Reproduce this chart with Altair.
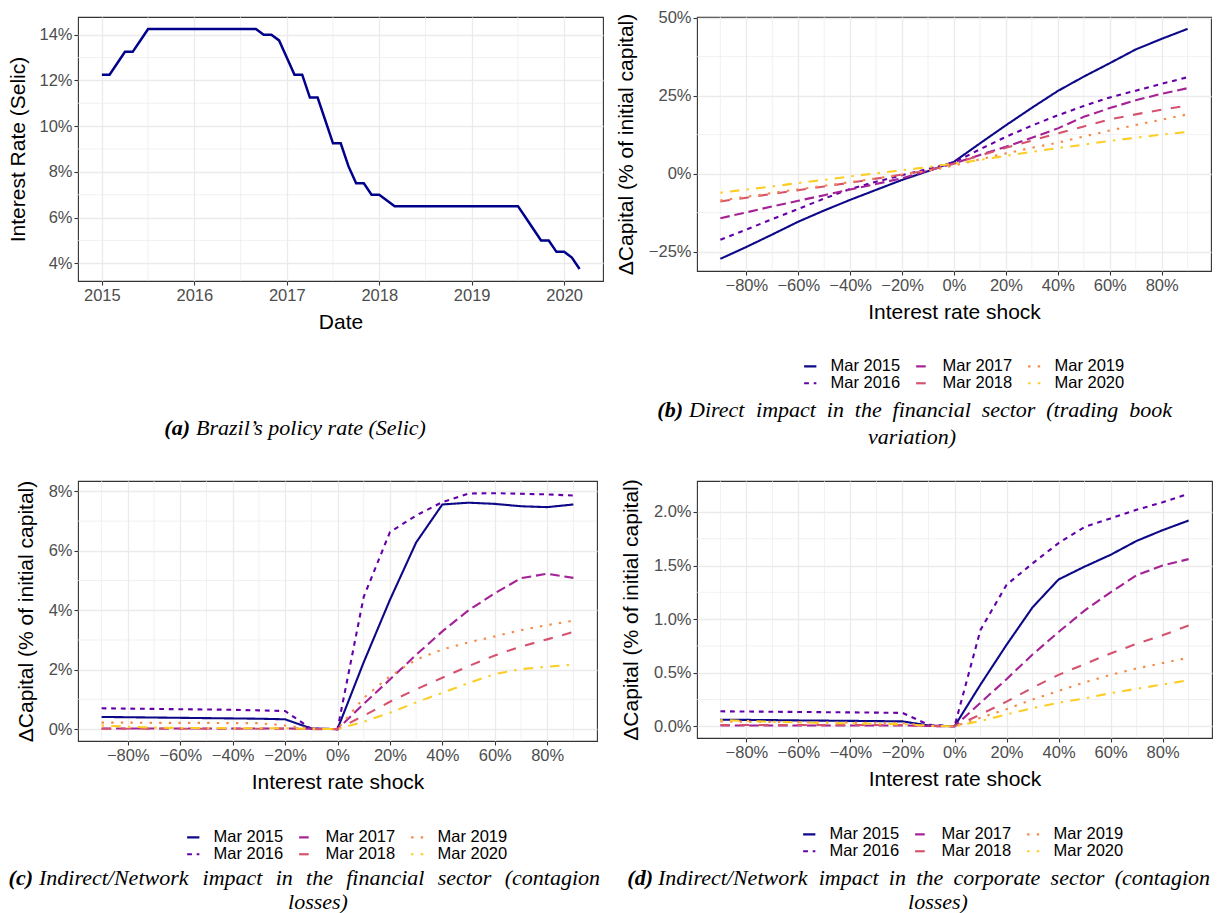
import altair as alt
import pandas as pd

# ---------------- data ----------------
SELIC_START = "2015-01-01"
SELIC_RATE = [12.25, 12.25, 12.75, 13.25, 13.25, 13.75, 14.25, 14.25, 14.25, 14.25, 14.25, 14.25,
              14.25, 14.25, 14.25, 14.25, 14.25, 14.25, 14.25, 14.25, 14.25, 14.00, 14.00, 13.75,
              13.00, 12.25, 12.25, 11.25, 11.25, 10.25, 9.25, 9.25, 8.25, 7.50, 7.50, 7.00,
              7.00, 6.75, 6.50, 6.50, 6.50, 6.50, 6.50, 6.50, 6.50, 6.50, 6.50, 6.50,
              6.50, 6.50, 6.50, 6.50, 6.50, 6.50, 6.50, 6.00, 5.50, 5.00, 5.00, 4.50,
              4.50, 4.25, 3.75]

SHOCKS = [-90, -80, -70, -60, -50, -40, -30, -20, -10, 0, 10, 20, 30, 40, 50, 60, 70, 80, 90]
SERIES = ["Mar 2015", "Mar 2016", "Mar 2017", "Mar 2018", "Mar 2019", "Mar 2020"]

DIRECT = {
    "Mar 2015": [-27.3, -23.5, -19.5, -15.4, -11.8, -8.4, -5.2, -2.0, 0.8, 3.8, 9.7, 15.5, 21.1, 26.5, 31.1, 35.4, 39.8, 43.2, 46.4],
    "Mar 2016": [-21.2, -17.9, -14.6, -11.3, -8.0, -4.9, -2.6, -0.5, 1.5, 3.6, 7.8, 11.8, 15.4, 18.7, 21.7, 24.4, 26.6, 28.8, 30.9],
    "Mar 2017": [-14.3, -12.4, -10.5, -8.7, -6.9, -5.1, -3.3, -1.5, 0.9, 3.3, 6.0, 8.6, 11.5, 14.5, 18.2, 21.0, 23.5, 25.6, 27.4],
    "Mar 2018": [-8.9, -7.7, -6.5, -5.3, -4.1, -2.9, -1.6, -0.3, 1.0, 3.2, 5.8, 8.3, 10.6, 12.9, 15.1, 17.4, 19.0, 20.5, 21.8],
    "Mar 2019": [-8.6, -7.4, -6.2, -5.0, -3.9, -2.7, -1.5, -0.3, 0.9, 2.6, 4.6, 6.5, 8.3, 9.9, 11.9, 13.8, 15.6, 17.3, 19.0],
    "Mar 2020": [-6.1, -5.1, -4.1, -3.0, -2.0, -0.9, 0.1, 1.1, 2.1, 3.2, 4.4, 5.7, 7.0, 8.2, 9.3, 10.5, 11.5, 12.5, 13.4],
}
FIN_NET = {
    "Mar 2015": [0.41, 0.40, 0.39, 0.38, 0.37, 0.36, 0.35, 0.33, 0.02, 0.0, 2.25, 4.35, 6.28, 7.56, 7.62, 7.58, 7.50, 7.47, 7.56],
    "Mar 2016": [0.70, 0.69, 0.68, 0.67, 0.66, 0.65, 0.63, 0.61, 0.01, 0.0, 4.45, 6.63, 7.19, 7.64, 7.93, 7.94, 7.92, 7.90, 7.86],
    "Mar 2017": [0.02, 0.02, 0.02, 0.02, 0.02, 0.02, 0.02, 0.02, 0.01, 0.0, 0.85, 1.67, 2.50, 3.29, 4.00, 4.57, 5.08, 5.23, 5.09],
    "Mar 2018": [0.01, 0.01, 0.01, 0.01, 0.01, 0.01, 0.01, 0.01, 0.0, 0.0, 0.45, 0.92, 1.34, 1.73, 2.12, 2.48, 2.78, 3.02, 3.27],
    "Mar 2019": [0.22, 0.22, 0.21, 0.21, 0.21, 0.20, 0.20, 0.12, 0.02, 0.0, 1.05, 1.78, 2.34, 2.68, 2.92, 3.12, 3.33, 3.50, 3.65],
    "Mar 2020": [0.12, 0.08, 0.05, 0.04, 0.04, 0.03, 0.03, 0.03, 0.01, 0.0, 0.25, 0.55, 0.90, 1.22, 1.55, 1.85, 2.02, 2.10, 2.17],
}
CORP_NET = {
    "Mar 2015": [0.062, 0.060, 0.058, 0.055, 0.053, 0.051, 0.049, 0.046, 0.008, 0.0, 0.39, 0.76, 1.11, 1.37, 1.49, 1.60, 1.73, 1.83, 1.92],
    "Mar 2016": [0.140, 0.138, 0.136, 0.134, 0.132, 0.130, 0.128, 0.125, 0.015, 0.0, 0.90, 1.32, 1.52, 1.71, 1.86, 1.94, 2.02, 2.09, 2.17],
    "Mar 2017": [0.008, 0.008, 0.008, 0.008, 0.008, 0.008, 0.008, 0.008, 0.003, 0.0, 0.22, 0.44, 0.67, 0.88, 1.08, 1.25, 1.41, 1.50, 1.56],
    "Mar 2018": [0.012, 0.012, 0.012, 0.012, 0.012, 0.012, 0.012, 0.012, 0.004, 0.0, 0.11, 0.23, 0.36, 0.48, 0.58, 0.68, 0.77, 0.85, 0.94],
    "Mar 2019": [0.045, 0.043, 0.041, 0.039, 0.037, 0.035, 0.033, 0.031, 0.006, 0.0, 0.08, 0.16, 0.25, 0.33, 0.41, 0.48, 0.54, 0.59, 0.64],
    "Mar 2020": [0.058, 0.050, 0.042, 0.036, 0.031, 0.028, 0.025, 0.020, 0.005, 0.0, 0.05, 0.11, 0.17, 0.22, 0.26, 0.31, 0.35, 0.39, 0.43],
}

SERIES_COLORS = {"Mar 2015": "#0D0887", "Mar 2016": "#6300A7", "Mar 2017": "#A52196",
                 "Mar 2018": "#D5536F", "Mar 2019": "#F48A47", "Mar 2020": "#FCCE25"}
SERIES_DASH = {"Mar 2015": [1, 0], "Mar 2016": [4.8, 4.8], "Mar 2017": [9.6, 4.8],
               "Mar 2018": [9.6, 9.6], "Mar 2019": [2.4, 7.2], "Mar 2020": [2.4, 7.2, 9.6, 7.2]}

X_MAJOR = [-80, -60, -40, -20, 0, 20, 40, 60, 80]
X_MINOR = [-90, -70, -50, -30, -10, 10, 30, 50, 70, 90]

# ---------------- style ----------------
FONT = "Liberation Sans"
SERIF = "Liberation Serif"
GRID = "#EBEBEB"
CAP_SIZE = 22

# approximate advance widths (1/1000 em) of a Times italic face, used to justify caption lines
TIMES_ITALIC_W = {" ": 250, "(": 333, ")": 333, "/": 278, "\u2019": 333,
                  "a": 500, "b": 500, "c": 444, "d": 500, "e": 444, "f": 278, "g": 500,
                  "h": 500, "i": 278, "j": 278, "k": 444, "l": 278, "m": 722, "n": 500,
                  "o": 500, "p": 500, "q": 500, "r": 389, "s": 389, "t": 278, "u": 500,
                  "v": 444, "w": 667, "x": 444, "y": 444, "z": 389,
                  "I": 333, "N": 667, "D": 722, "B": 611, "S": 500}


def word_width(word):
    return sum(TIMES_ITALIC_W.get(ch, 500) for ch in word) * CAP_SIZE / 1000.0


def justified(text, x0, x1, y):
    """Split a caption line into words spread from x0 to x1 (LaTeX-justified line)."""
    words = text.split(" ")
    widths = [word_width(w) for w in words]
    gap = (x1 - x0 - sum(widths)) / (len(words) - 1)
    pieces = []
    x = x0
    for i, (w, wd) in enumerate(zip(words, widths)):
        if i == len(words) - 1:
            pieces.append((w, x1, y, "right", False))
        else:
            pieces.append((w, x, y, "left", False))
        x += wd + gap
    return pieces


def pct_expr(dec):
    return ("(datum.value < 0 ? '\u2212' : '') + format(abs(datum.value), '.%df') + '%%'" % dec)


def caption_layers(pieces):
    layers = []
    for text, x, y, align, bold in pieces:
        layers.append(
            alt.Chart(pd.DataFrame({"label": [text]}))
            .mark_text(font=SERIF, fontSize=CAP_SIZE, fontStyle="italic",
                       fontWeight="bold" if bold else "normal", align=align,
                       baseline="middle", color="black")
            .encode(text="label:N", x=alt.value(x), y=alt.value(y))
        )
    return layers


def shock_panel(vals, ydom, ymajor, yminor, ydec, width, height, lx, ly, caption):
    rows = []
    for s in SERIES:
        for x, v in zip(SHOCKS, vals[s]):
            rows.append({"shock": x, "value": v, "series": s})
    df = pd.DataFrame(rows)
    xs = alt.Scale(domain=[-99, 99], nice=False, zero=False)
    ys = alt.Scale(domain=ydom, nice=False, zero=False)
    xaxis = alt.Axis(title="Interest rate shock", values=X_MAJOR, labelExpr=pct_expr(0),
                     labelOverlap=False, labelFlush=False, titlePadding=8)
    yaxis = alt.Axis(title="\u0394Capital (% of initial capital)", values=ymajor,
                     labelExpr=pct_expr(ydec), labelOverlap=False, titlePadding=12)
    leg = alt.Legend(title=None, orient="none", legendX=lx, legendY=ly, columns=3,
                     symbolType="stroke", symbolSize=150, symbolStrokeWidth=2.2,
                     labelFont=FONT, labelFontSize=16.5, labelColor="black",
                     labelOffset=12, columnPadding=10, rowPadding=0, padding=0)
    cscale = alt.Scale(domain=SERIES, range=[SERIES_COLORS[s] for s in SERIES])
    dscale = alt.Scale(domain=SERIES, range=[SERIES_DASH[s] for s in SERIES])

    vminor = alt.Chart(pd.DataFrame({"shock": X_MINOR})).mark_rule(
        color=GRID, strokeWidth=0.7).encode(x=alt.X("shock:Q", scale=xs, axis=xaxis))
    hminor = alt.Chart(pd.DataFrame({"value": yminor})).mark_rule(
        color=GRID, strokeWidth=0.7).encode(y=alt.Y("value:Q", scale=ys, axis=yaxis))
    lines = alt.Chart(df).mark_line(strokeWidth=2.1).encode(
        x=alt.X("shock:Q", scale=xs, axis=xaxis),
        y=alt.Y("value:Q", scale=ys, axis=yaxis),
        color=alt.Color("series:N", scale=cscale, legend=leg),
        strokeDash=alt.StrokeDash("series:N", scale=dscale, legend=leg),
    )
    return alt.layer(vminor, hminor, lines, *caption_layers(caption)).properties(
        width=width, height=height)


# ---------------- panel (a) ----------------
months = pd.date_range(SELIC_START, periods=len(SELIC_RATE), freq="MS")
selic = pd.DataFrame({"year": months.year + (months.month - 1) / 12.0, "rate": SELIC_RATE})
xa = alt.Scale(domain=[2014.742, 2020.42], nice=False, zero=False)
ya = alt.Scale(domain=[3.225, 14.775], nice=False, zero=False)
xa_axis = alt.Axis(title="Date", values=[2015, 2016, 2017, 2018, 2019, 2020], format="d",
                   labelOverlap=False, labelFlush=False, titlePadding=8)
ya_axis = alt.Axis(title="Interest Rate (Selic)", values=[4, 6, 8, 10, 12, 14],
                   labelExpr="format(datum.value, 'd') + '%'", titlePadding=10)
a_vminor = alt.Chart(pd.DataFrame({"year": [2015.5, 2016.5, 2017.5, 2018.5, 2019.5]})).mark_rule(
    color=GRID, strokeWidth=0.7).encode(x=alt.X("year:Q", scale=xa, axis=xa_axis))
a_hminor = alt.Chart(pd.DataFrame({"rate": [5, 7, 9, 11, 13]})).mark_rule(
    color=GRID, strokeWidth=0.7).encode(y=alt.Y("rate:Q", scale=ya, axis=ya_axis))
a_line = alt.Chart(selic).mark_line(color="#00008B", strokeWidth=2.5).encode(
    x=alt.X("year:Q", scale=xa, axis=xa_axis), y=alt.Y("rate:Q", scale=ya, axis=ya_axis))
panel_a = alt.layer(a_vminor, a_hminor, a_line, *caption_layers([
    ("(a)", 112, 411, "right", True),
    ("Brazil\u2019s policy rate (Selic)", 118, 411, "left", False),
])).properties(width=525, height=264)

panel_b = shock_panel(DIRECT, [-31.2, 50.2], [-25, 0, 25, 50], [-12.5, 12.5, 37.5], 0,
                      514, 254, 105, 341,
                      [("(b)", -14, 393, "right", True)]
                      + justified("Direct impact in the financial sector (trading book", -8, 475, 393)
                      + [("variation)", 215, 420, "center", False)])
panel_c = shock_panel(FIN_NET, [-0.4, 8.35], [0, 2, 4, 6, 8], [1, 3, 5, 7], 0,
                      519, 260, 107, 348,
                      [("(c)", -45, 397, "right", True)]
                      + justified("Indirect/Network impact in the financial sector (contagion", -39, 522, 397)
                      + [("losses)", 240, 421, "center", False)])
panel_d = shock_panel(CORP_NET, [-0.109, 2.289], [0, 0.5, 1.0, 1.5, 2.0], [0.25, 0.75, 1.25, 1.75], 1,
                      515, 257, 104, 345,
                      [("(d)", -44, 397, "right", True)]
                      + justified("Indirect/Network impact in the corporate sector (contagion", -39, 513, 397)
                      + [("losses)", 241, 421, "center", False)])

chart = alt.concat(panel_a, panel_b, panel_c, panel_d, columns=2,
                   spacing={"row": 200, "column": 94}, bounds="flush").resolve_scale(
    color="independent", strokeDash="independent").resolve_legend(
    color="independent", strokeDash="independent").properties(
    padding={"left": 7, "top": 9, "right": 2, "bottom": 0}, background="white"
).configure_view(stroke="#333333", strokeWidth=1.1).configure_axis(
    labelFont=FONT, titleFont=FONT, labelFontSize=16.5, titleFontSize=21,
    labelColor="#4D4D4D", titleColor="black", titleFontWeight="normal",
    tickColor="#333333", tickSize=4, tickWidth=1.1, domain=False, labelPadding=2,
    grid=True, gridColor=GRID, gridWidth=1.3)

chart.save("out.html", embed_options={"renderer": "svg", "actions": False})
